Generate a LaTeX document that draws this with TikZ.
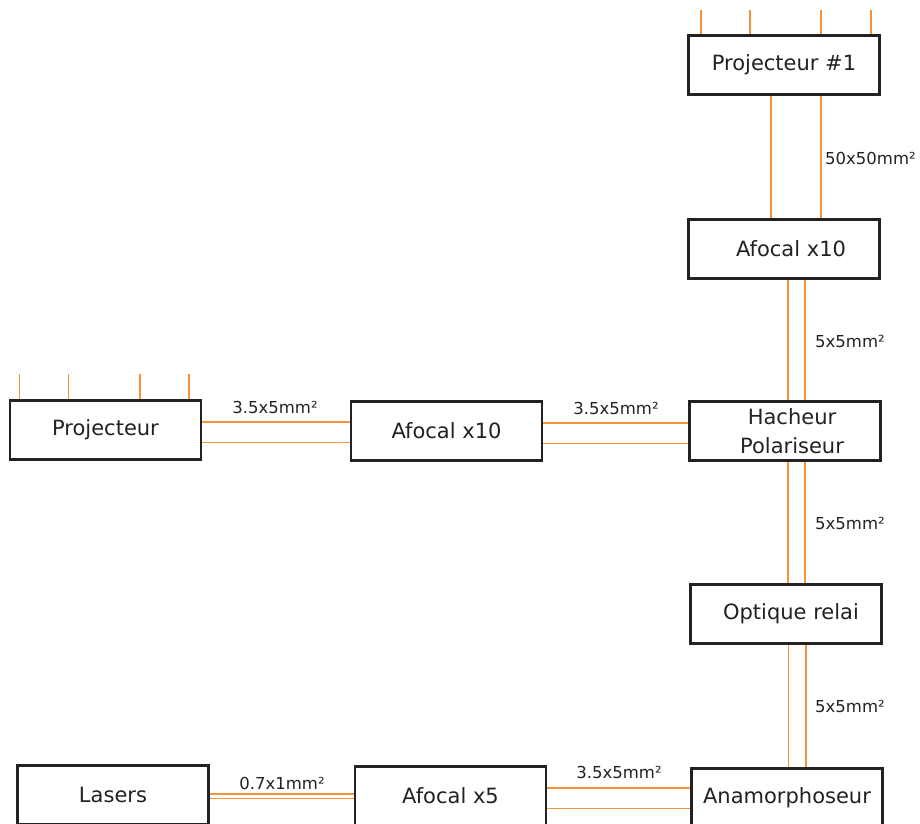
\documentclass[tikz,border=0pt]{standalone}
\usepackage{fontspec}
\setmainfont{DejaVu Sans}
\usetikzlibrary{calc}
\definecolor{figink}{HTML}{222222}
\definecolor{figbeam}{HTML}{F7923A}

\begin{document}
\begin{tikzpicture}[x=1pt, y=-1pt, line cap=butt,
    bloc/.style={draw=figink, line width=2.8pt, fill=white, text=figink,
      minimum width=191pt, minimum height=59pt, inner sep=0pt,
      font=\fontsize{21}{24}\selectfont, align=center},
    beam/.style={figbeam, line width=1.5pt},
    cote/.style={text=figink, inner sep=0pt, font=\fontsize{16.5}{18}\selectfont}]
  \useasboundingbox (0,0) rectangle (920,823);

  % colonne de droite
  \node[bloc] (pone) at (784,65)  {Projecteur \#1};
  \node[bloc] (afa)  at (784,249) {\hspace*{14pt}Afocal x10};
  \node[bloc] (hach) at (785,431) {\hspace*{14pt}Hacheur\\[5pt]\hspace*{14pt}Polariseur};
  \node[bloc] (opt)  at (786,614) {\hspace*{10pt}Optique relai};
  \node[bloc] (anam) at (787,798) {Anamorphoseur};

  % ligne du milieu et ligne du bas
  \node[bloc] (proj) at (105.5,430) {Projecteur};
  \node[bloc] (afb)  at (446.5,431) {Afocal x10};
  \node[bloc] (las)  at (113,795)   {Lasers};
  \node[bloc] (afc)  at (450.5,796) {Afocal x5};

  % faisceaux d'entree des projecteurs (petits traits au-dessus)
  \foreach \dx in {-83,-34,37,87}
    \draw[beam] ([xshift=\dx pt]pone.north) -- ++(0,-24);
  \foreach \dx in {-86,-37,34.5,83.5}
    \draw[beam] ([xshift=\dx pt]proj.north) -- ++(0,-25);

  % faisceaux verticaux
  \foreach \dx in {-13,37}
    \draw[beam] ([xshift=\dx pt]pone.south) -- ([xshift=\dx pt]pone.south |- afa.north);
  \foreach \dx in {3,20}
    \draw[beam] ([xshift=\dx pt]hach.north) -- ([xshift=\dx pt]hach.north |- afa.south);
  \foreach \dx in {3,20}
    \draw[beam] ([xshift=\dx pt]hach.south) -- ([xshift=\dx pt]hach.south |- opt.north);
  \foreach \dx in {2.5,20}
    \draw[beam] ([xshift=\dx pt]opt.south) -- ([xshift=\dx pt]opt.south |- anam.north);

  % faisceaux horizontaux
  \foreach \dy in {8,-12.5}
    \draw[beam] ([yshift=\dy pt]proj.east) -- ([yshift=\dy pt]proj.east -| afb.west);
  \foreach \dy in {8,-12.5}
    \draw[beam] ([yshift=\dy pt]afb.east) -- ([yshift=\dy pt]afb.east -| hach.west);
  \foreach \dy in {1,-3.5}
    \draw[beam] ([yshift=\dy pt]las.east) -- ([yshift=\dy pt]las.east -| afc.west);
  \foreach \dy in {8,-12.5}
    \draw[beam] ([yshift=\dy pt]afc.east) -- ([yshift=\dy pt]afc.east -| anam.west);

  % sections des faisceaux
  \node[cote, anchor=west] (s1) at (825,158) {50x50mm²};
  \node[cote, anchor=west] (s2) at (815,341) {5x5mm²};
  \node[cote, anchor=west] (s3) at (815,523) {5x5mm²};
  \node[cote, anchor=west] (s4) at (815,706) {5x5mm²};
  \node[cote] (s5) at (275,407) {3.5x5mm²};
  \node[cote] (s6) at (616,408) {3.5x5mm²};
  \node[cote] (s7) at (282,783) {0.7x1mm²};
  \node[cote] (s8) at (619,772) {3.5x5mm²};
\end{tikzpicture}
\end{document}
